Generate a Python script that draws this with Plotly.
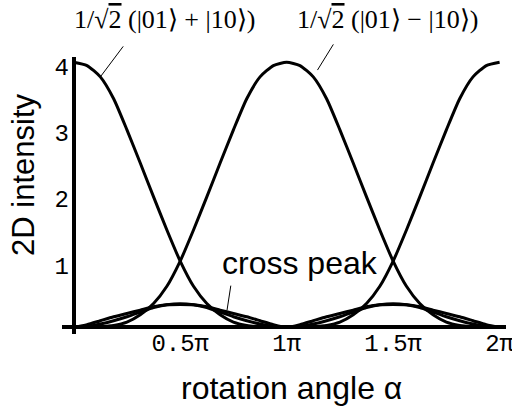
import plotly.graph_objects as go

# rotation angle in units of pi
angle = [0.0, 0.0625, 0.125, 0.1875, 0.25, 0.3125, 0.375, 0.4375, 0.5,
         0.5625, 0.625, 0.6875, 0.75, 0.8125, 0.875, 0.9375, 1.0,
         1.0625, 1.125, 1.1875, 1.25, 1.3125, 1.375, 1.4375, 1.5,
         1.5625, 1.625, 1.6875, 1.75, 1.8125, 1.875, 1.9375, 2.0]

# diagonal peak of the symmetric state 1/sqrt2(|01>+|10>)
sym_state = [4.00, 3.95, 3.78, 3.45, 2.98, 2.48, 1.97, 1.47, 1.00,
             0.62, 0.36, 0.19, 0.08, 0.03, 0.01, 0.00, 0.00,
             0.00, 0.01, 0.03, 0.08, 0.19, 0.36, 0.62, 1.00,
             1.47, 1.97, 2.48, 2.98, 3.45, 3.78, 3.95, 4.00]

# diagonal peak of the antisymmetric state 1/sqrt2(|01>-|10>)
anti_state = [0.00, 0.00, 0.01, 0.03, 0.08, 0.19, 0.36, 0.62, 1.00,
              1.47, 1.97, 2.48, 2.98, 3.45, 3.78, 3.95, 4.00,
              3.95, 3.78, 3.45, 2.98, 2.48, 1.97, 1.47, 1.00,
              0.62, 0.36, 0.19, 0.08, 0.03, 0.01, 0.00, 0.00]

# the two cross-peak intensities
cross_wide = [0.00, 0.04, 0.10, 0.16, 0.21, 0.26, 0.31, 0.34, 0.345,
              0.34, 0.31, 0.26, 0.21, 0.16, 0.10, 0.04, 0.00,
              0.04, 0.10, 0.16, 0.21, 0.26, 0.31, 0.34, 0.345,
              0.34, 0.31, 0.26, 0.21, 0.16, 0.10, 0.04, 0.00]
cross_narrow = [0.00, 0.015, 0.05, 0.10, 0.16, 0.23, 0.30, 0.34, 0.355,
                0.34, 0.30, 0.23, 0.16, 0.10, 0.05, 0.015, 0.00,
                0.015, 0.05, 0.10, 0.16, 0.23, 0.30, 0.34, 0.355,
                0.34, 0.30, 0.23, 0.16, 0.10, 0.05, 0.015, 0.00]

x_tick_vals = [0.5, 1.0, 1.5, 2.0]
x_tick_text = ["0.5π", "1π", "1.5π", "2π"]
y_tick_vals = [1, 2, 3, 4]
y_tick_text = ["1", "2", "3", "4"]

fig = go.Figure()
for series in (sym_state, anti_state, cross_wide, cross_narrow):
    fig.add_trace(go.Scatter(
        x=angle, y=series, mode="lines",
        line=dict(color="black", width=3, shape="spline", smoothing=0.6),
        hoverinfo="skip", showlegend=False))

serif = "Liberation Serif, Times New Roman, serif"
sans = "Liberation Sans, Arial, sans-serif"
mono = "Liberation Mono, Courier New, monospace"


def paper_text(x, y, text, font, angle=0):
    return dict(x=x, y=y, xref="paper", yref="paper", showarrow=False,
                xanchor="center", yanchor="middle", text=text,
                textangle=angle, font=font)


def pointer(x, y, ax, ay, standoff=0):
    return dict(x=x, y=y, xref="x", yref="y", text="", showarrow=True,
                arrowhead=0, arrowwidth=1, arrowcolor="black",
                ax=ax, ay=ay, standoff=standoff)


label_font = dict(family=serif, size=26, color="black")
title_font = dict(family=sans, size=31, color="black")

annotations = [
    # state labels above the peaks
    paper_text(0.230, 1.134,
               "1/√<span style='text-decoration:overline'>2</span> (|01⟩ + |10⟩)",
               label_font),
    paper_text(0.732, 1.134,
               "1/√<span style='text-decoration:overline'>2</span> (|01⟩ − |10⟩)",
               label_font),
    # pointer lines from the labels to the curves
    pointer(angle[2], sym_state[2], 24, -32),
    pointer(angle[18], anti_state[18], 21, -34, standoff=8),
    pointer(0.72, 0.26, 4, -26),
    dict(x=1.061, y=0.97, xref="x", yref="y", showarrow=False,
         xanchor="center", yanchor="middle", text="cross peak",
         font=dict(family=sans, size=32, color="black")),
    # axis titles
    paper_text(-0.088, 0.574, "2D intensity", title_font, angle=-90),
    paper_text(0.516, -0.195, "rotation angle α",
               dict(family=sans, size=32, color="black")),
]

fig.update_layout(
    width=512, height=418,
    margin=dict(l=62, r=6, t=57, b=84),
    paper_bgcolor="white", plot_bgcolor="white",
    annotations=annotations,
    xaxis=dict(range=[-0.055, 2.03], showgrid=False, showline=False,
               zeroline=True, zerolinecolor="black", zerolinewidth=4,
               tickvals=x_tick_vals, ticktext=x_tick_text, ticks="",
               tickfont=dict(family=mono, size=24, color="black"),
               ticklabelstandoff=-8, ticklabeloverflow="allow",
               automargin=False),
    yaxis=dict(range=[-0.1, 4.08], showgrid=False, showline=False,
               zeroline=True, zerolinecolor="black", zerolinewidth=4,
               tickvals=y_tick_vals, ticktext=y_tick_text, ticks="",
               tickfont=dict(family=mono, size=24, color="black"),
               ticklabelstandoff=-8, ticklabelshift=4,
               automargin=False),
)

fig.write_html("out.html")
